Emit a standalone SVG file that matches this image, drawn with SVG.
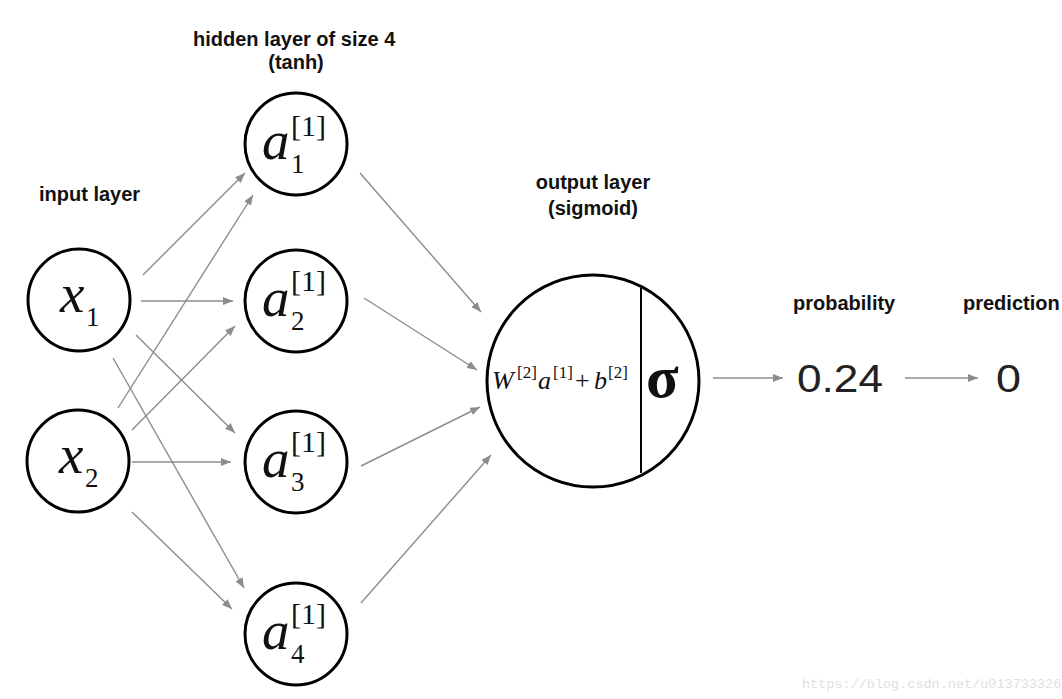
<svg xmlns="http://www.w3.org/2000/svg" width="1062" height="699" viewBox="0 0 1062 699">
<style>
.node{fill:#fff;stroke:#000;stroke-width:3}
.lbl{font-family:"Liberation Sans",Arial,sans-serif;font-weight:bold;font-size:20px;fill:#111}
.m{font-family:"Liberation Serif","Times New Roman",serif;font-style:italic;fill:#111}
.n{font-family:"Liberation Serif","Times New Roman",serif;font-style:normal;fill:#111}
.big{font-size:55px}
.sub{font-size:27px;font-style:normal}
.sup{font-size:30px;font-style:normal}
.num{font-family:"Liberation Sans",Arial,sans-serif;font-size:38px;fill:#222}
.edge{stroke:#8c8c8c;stroke-width:1.4;fill:none;marker-end:url(#ah)}
</style>
<defs>
<marker id="ah" markerUnits="userSpaceOnUse" markerWidth="10" markerHeight="8" refX="10" refY="4" orient="auto">
<path d="M0,0 L10,4 L0,8 z" fill="#8c8c8c"/>
</marker>
</defs>
<rect width="1062" height="699" fill="#fff"/>

<g id="labels">
<text class="lbl" x="193" y="46" font-size="18">hidden layer of size 4</text>
<text class="lbl" x="296" y="69" text-anchor="middle">(tanh)</text>
<text class="lbl" x="39" y="201">input layer</text>
<text class="lbl" x="593" y="189" text-anchor="middle">output layer</text>
<text class="lbl" x="593" y="215" text-anchor="middle">(sigmoid)</text>
<text class="lbl" x="793" y="310">probability</text>
<text class="lbl" x="963" y="310">prediction</text>
</g>

<g id="connectors">
<line class="edge" x1="143" y1="275" x2="245" y2="173"/>
<line class="edge" x1="118" y1="408" x2="253" y2="195"/>
<line class="edge" x1="141" y1="301" x2="233" y2="301"/>
<line class="edge" x1="132" y1="430" x2="235" y2="326"/>
<line class="edge" x1="136" y1="335" x2="235" y2="433"/>
<line class="edge" x1="132" y1="462" x2="231" y2="462"/>
<line class="edge" x1="113" y1="358" x2="244" y2="588"/>
<line class="edge" x1="132" y1="512" x2="232" y2="609"/>
<line class="edge" x1="360" y1="173" x2="481" y2="312"/>
<line class="edge" x1="364" y1="298" x2="477" y2="370"/>
<line class="edge" x1="361" y1="466" x2="480" y2="407"/>
<line class="edge" x1="361" y1="603" x2="491" y2="455"/>
<line class="edge" x1="713" y1="378" x2="783" y2="378"/>
<line class="edge" x1="905" y1="378" x2="978" y2="378"/>
</g>

<g id="x1">
<circle class="node" cx="79" cy="300" r="51"/>
<text class="m big" x="60" y="312">x</text>
<text class="n sub" x="86" y="326">1</text>
</g>
<g id="x2">
<circle class="node" cx="78" cy="461" r="51"/>
<text class="m big" x="59" y="473">x</text>
<text class="n sub" x="85" y="487">2</text>
</g>

<g id="a1">
<circle class="node" cx="296" cy="144" r="51"/>
<text class="m big" x="262" y="159">a</text>
<text class="n sup" x="291" y="136">[1]</text>
<text class="n sub" x="291" y="173">1</text>
</g>
<g id="a2">
<circle class="node" cx="296" cy="301" r="51"/>
<text class="m big" x="262" y="316">a</text>
<text class="n sup" x="291" y="291">[1]</text>
<text class="n sub" x="291" y="330">2</text>
</g>
<g id="a3">
<circle class="node" cx="296" cy="462" r="51"/>
<text class="m big" x="262" y="477">a</text>
<text class="n sup" x="291" y="452">[1]</text>
<text class="n sub" x="291" y="491">3</text>
</g>
<g id="a4">
<circle class="node" cx="296" cy="634" r="51"/>
<text class="m big" x="262" y="649">a</text>
<text class="n sup" x="291" y="624">[1]</text>
<text class="n sub" x="291" y="663">4</text>
</g>

<g id="output">
<circle class="node" cx="593" cy="381" r="106"/>
<line x1="641" y1="288" x2="641" y2="473" stroke="#000" stroke-width="2"/>
<text class="m" font-size="26" x="492" y="389">W</text>
<text class="n" font-size="17" x="517" y="378">[2]</text>
<text class="m" font-size="26" x="538" y="389">a</text>
<text class="n" font-size="17" x="553" y="378">[1]</text>
<text class="n" font-size="26" x="575" y="389">+</text>
<text class="m" font-size="26" x="594" y="389">b</text>
<text class="n" font-size="17" x="608" y="378">[2]</text>
<text class="n" font-size="60" font-weight="bold" x="646" y="397">σ</text>
</g>

<g id="probability">
<text class="num" x="797" y="392" textLength="86" lengthAdjust="spacingAndGlyphs">0.24</text>
</g>
<g id="prediction">
<text class="num" x="996" y="392" textLength="25" lengthAdjust="spacingAndGlyphs">0</text>
</g>

<text x="802" y="688" font-family="Liberation Mono,monospace" font-size="13.5" fill="#e0e0e0">https://blog.csdn.net/u013733326</text>
</svg>
